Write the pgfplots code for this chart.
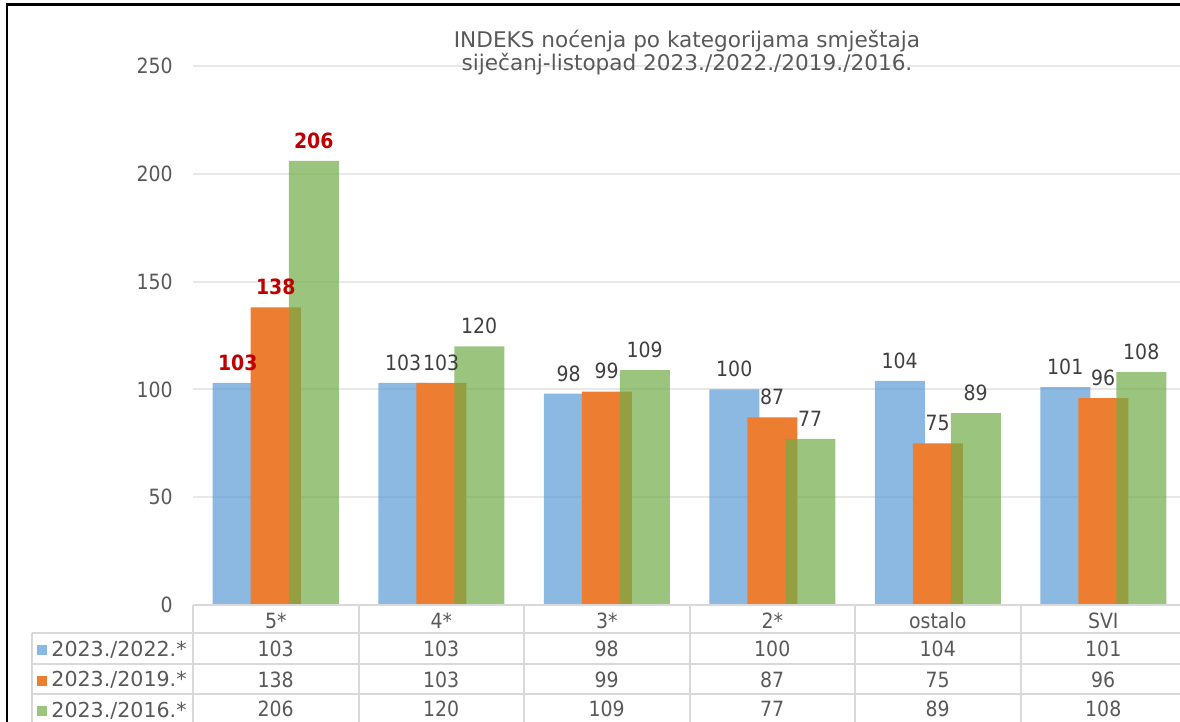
\documentclass[border=0pt]{standalone}
\usepackage{fontspec}
\setmainfont{DejaVu Sans Condensed}
\newfontfamily\wide{DejaVu Sans}
\usepackage{pgfplots}
\pgfplotsset{compat=1.18}
\usepackage{pgfplotstable}

\definecolor{cblue}{HTML}{5B9BD5}
\definecolor{corange}{HTML}{ED7D31}
\definecolor{cgreen}{HTML}{70AD47}
\definecolor{cgrid}{HTML}{D9D9D9}
\definecolor{cgridl}{HTML}{E8E8E8}
\definecolor{ctxt}{HTML}{595959}
\definecolor{clab}{HTML}{404040}
\definecolor{cred}{HTML}{C00000}
\newcommand\f{\fontsize{10.5}{11.7}\selectfont}

\pgfplotstableread{
x a b c
0 103 138 206
1 103 103 120
2 98 99 109
3 100 87 77
4 104 75 89
5 101 96 108
}\data

\pgfplotsset{
  /pgf/number format/assume math mode=true,
  barlab/.style={draw=none, mark=none, nodes near coords,
    every node near coord/.append style={anchor=south, inner sep=0pt, yshift=6pt, font=\f, text=clab}},
  redlab/.style={draw=none, mark=none, nodes near coords, skip coords between index={1}{6},
    every node near coord/.append style={anchor=south, inner sep=0pt, yshift=6pt, font=\f\bfseries, text=cred}},
  rowlab/.style={draw=none, mark=none, nodes near coords,
    every node near coord/.append style={anchor=mid, inner sep=0pt, font=\f, text=ctxt}},
}

\begin{document}
\begin{tikzpicture}
\useasboundingbox (0,0) rectangle (590pt,-361pt);
\clip (0,0) rectangle (590pt,-361pt);
\begin{axis}[
  at={(96.5pt,-302.5pt)}, anchor=south west,
  scale only axis, width=496.5pt, height=269.5pt,
  xmin=-0.5, xmax=5.5, ymin=0, ymax=250,
  enlargelimits=false, clip=false,
  ytick={0,50,...,250},
  xtick={0,...,5}, xticklabels={5*,4*,3*,2*,ostalo,SVI},
  axis line style={draw=none},
  major tick length=0pt,
  ymajorgrids, grid style={cgridl, line width=1pt},
  tick label style={font=\f, text=ctxt},
  xticklabel style={anchor=center, inner sep=0pt, yshift=-8pt},
  yticklabel style={anchor=east, inner sep=0pt, xshift=-10pt},
]
\addplot[ybar, bar width=25pt, bar shift=-19pt, fill=cblue, fill opacity=0.7, draw=none] table[x=x,y=a]{\data};
\addplot[ybar, bar width=25pt, bar shift=0pt, fill=corange, draw=none] table[x=x,y=b]{\data};
\addplot[ybar, bar width=25pt, bar shift=19pt, fill=cgreen, fill opacity=0.7, draw=none] table[x=x,y=c]{\data};

\addplot[barlab, skip coords between index={0}{1}, every node near coord/.append style={xshift=-19pt}] table[x=x,y=a]{\data};
\addplot[barlab, skip coords between index={0}{1}] table[x=x,y=b]{\data};
\addplot[barlab, skip coords between index={0}{1}, every node near coord/.append style={xshift=19pt}] table[x=x,y=c]{\data};
\addplot[redlab, every node near coord/.append style={xshift=-19pt}] table[x=x,y=a]{\data};
\addplot[redlab] table[x=x,y=b]{\data};
\addplot[redlab, every node near coord/.append style={xshift=19pt}] table[x=x,y=c]{\data};

\addplot[rowlab, point meta=\thisrow{a}] table[x=x, y expr=-21.3]{\data};
\addplot[rowlab, point meta=\thisrow{b}] table[x=x, y expr=-35.7]{\data};
\addplot[rowlab, point meta=\thisrow{c}] table[x=x, y expr=-49.2]{\data};
\end{axis}

\begin{scope}[x=0.5pt, y=-0.5pt]
  \begin{scope}[draw=cgrid, line width=1pt]
    \draw (193,605) -- (1190,605);
    \draw (32,633) -- (1190,633);
    \draw (32,663.5) -- (1190,663.5);
    \draw (32,694) -- (1190,694);
    \draw (32,633) -- (32,730);
    \foreach \xx in {193,358.5,524,689.5,855,1020.5}
      \draw (\xx,605) -- (\xx,730);
  \end{scope}
  \fill[cblue, fill opacity=0.7] (37,645) rectangle (47,655);
  \fill[corange] (37,675.5) rectangle (47,685.5);
  \fill[cgreen, fill opacity=0.7] (37,706) rectangle (47,716);
  \node[anchor=mid west, inner sep=0pt, font=\wide\fontsize{10.3}{12}\selectfont, text=ctxt] at (51,651) {2023./2022.*};
  \node[anchor=mid west, inner sep=0pt, font=\wide\fontsize{10.3}{12}\selectfont, text=ctxt] at (51,681.5) {2023./2019.*};
  \node[anchor=mid west, inner sep=0pt, font=\wide\fontsize{10.3}{12}\selectfont, text=ctxt] at (51,712) {2023./2016.*};
  \node[align=center, inner sep=0pt, font=\wide\fontsize{10.8}{11.5}\selectfont, text=ctxt] at (687,53) {INDEKS noćenja po kategorijama smještaja\\siječanj-listopad 2023./2022./2019./2016.};
  \draw[black, line width=1.25pt] (7,730) -- (7,4.3) -- (1190,4.3);
\end{scope}
\end{tikzpicture}
\end{document}
